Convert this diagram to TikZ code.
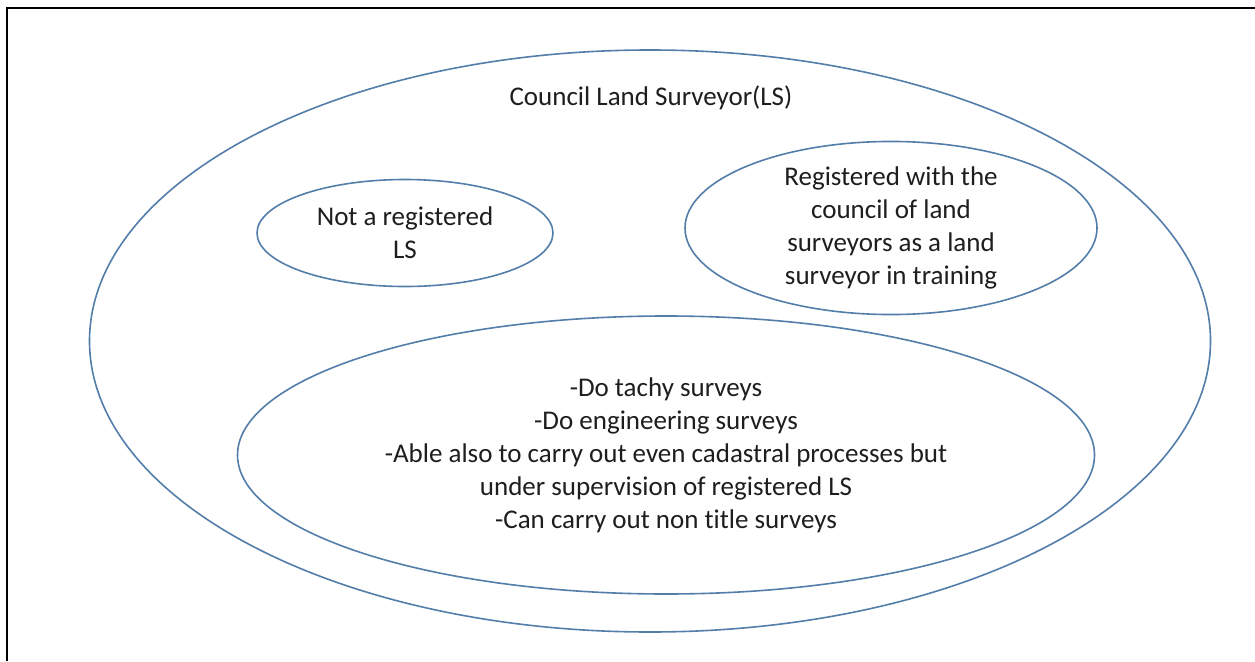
\documentclass[tikz,border=0pt]{standalone}
\usepackage{fontspec}
\setmainfont[Ligatures=CommonOff]{Carlito}
\usetikzlibrary{shapes.geometric}
\definecolor{ellblue}{RGB}{84,126,170}
\definecolor{txt}{RGB}{30,30,30}
\tikzset{
  ell/.style={ellipse, draw=ellblue, line width=1.6pt, inner sep=0pt, align=center,
    text=txt, font=\fontsize{27}{33}\selectfont},
}
\begin{document}
\begin{tikzpicture}[x=1pt,y=-1pt]
\useasboundingbox (0,0) rectangle (1255,661);
\fill[white] (0,0) rectangle (1255,661);
\draw[line width=2.2pt] (7,661) -- (7,8) -- (1255,8);
\node[ell, minimum width=1121pt, minimum height=582pt] (outer) at (650,341) {};
\node[text=txt, font=\fontsize{27}{33}\selectfont] (title) at (651,98) {Council Land Surveyor(LS)};
\node[ell, minimum width=296pt, minimum height=107pt] (notreg) at (405,233) {Not a registered\\LS};
\node[ell, minimum width=412pt, minimum height=150pt] (lsit) at (891,228) {Registered with the\\council of land\\surveyors as a land\\surveyor in training};
\node[ell, minimum width=857pt, minimum height=278pt] (duties) at (666,455) {-Do tachy surveys\\-Do engineering surveys\\-Able also to carry out even cadastral processes but\\under supervision of registered LS\\-Can carry out non title surveys};
\end{tikzpicture}
\end{document}
